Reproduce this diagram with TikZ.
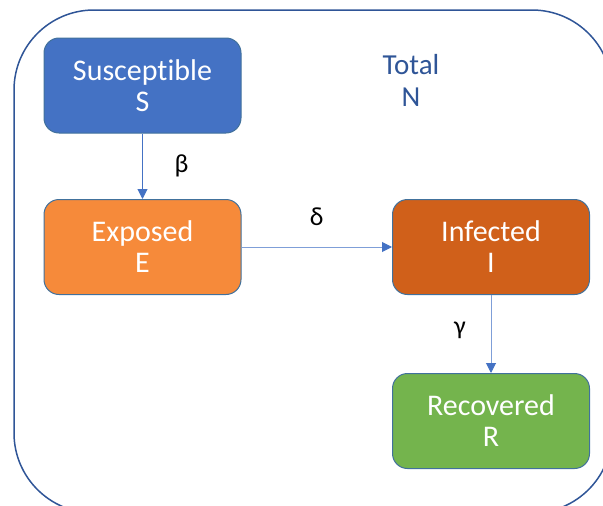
\documentclass[tikz,border=0pt]{standalone}
\usepackage{fontspec}
\setmainfont{Carlito}[Ligatures=NoCommon]
\usetikzlibrary{positioning, arrows.meta}
\definecolor{frameblue}{HTML}{2F5597}
\definecolor{sblue}{HTML}{4472C4}
\definecolor{eorange}{HTML}{F68A3A}
\definecolor{iorange}{HTML}{D0601A}
\definecolor{rgreen}{HTML}{74B44D}
\definecolor{edgeblue}{HTML}{41719C}
\definecolor{lineblue}{HTML}{7F9FD8}
\tikzstyle{compartment} = [rectangle, rounded corners=15pt, minimum width=197pt, minimum height=95pt, inner sep=0pt, align=center, text=white, draw=edgeblue, line width=1pt, font=\fontsize{30}{31}\selectfont]
\tikzstyle{rate} = [font=\fontsize{26}{30}\selectfont, text=black]
\tikzstyle{arrow} = [draw=lineblue, line width=1pt, -{Triangle[length=10pt, width=10pt, color=sblue]}]
\begin{document}
\begin{tikzpicture}[x=1pt, y=1pt, node distance=161.5pt]

\useasboundingbox (0,0) rectangle (603,-506);
\begin{scope}
\clip (0,0) rectangle (603,-506);
\draw [frameblue, line width=1.5pt, rounded corners=80pt] (14,-10) rectangle (612,-513);
\end{scope}

\node (sus) [compartment, fill=sblue] at (142.5,-85.5) {Susceptible\\S};
\node (exp) [compartment, fill=eorange, below of=sus] {Exposed\\E};
\node (inf) [compartment, fill=iorange, right of=exp, xshift=187pt] {Infected\\I};
\node (rec) [compartment, fill=rgreen, below of=inf, yshift=-12.5pt] {Recovered\\R};

\node (total) [font=\fontsize{29}{32}\selectfont, text=frameblue, align=center] at (411,-80) {Total\\N};

%% arrows
\draw [arrow, draw=sblue] (sus) -- node[rate, xshift=39pt] (beta) {β} (exp);
\draw [arrow] (exp) -- node[rate, yshift=30pt] (delta) {δ} (inf);
\draw [arrow] (inf) -- node[rate, xshift=-31pt, yshift=4pt] (gamma) {γ} (rec);

\end{tikzpicture}
\end{document}
